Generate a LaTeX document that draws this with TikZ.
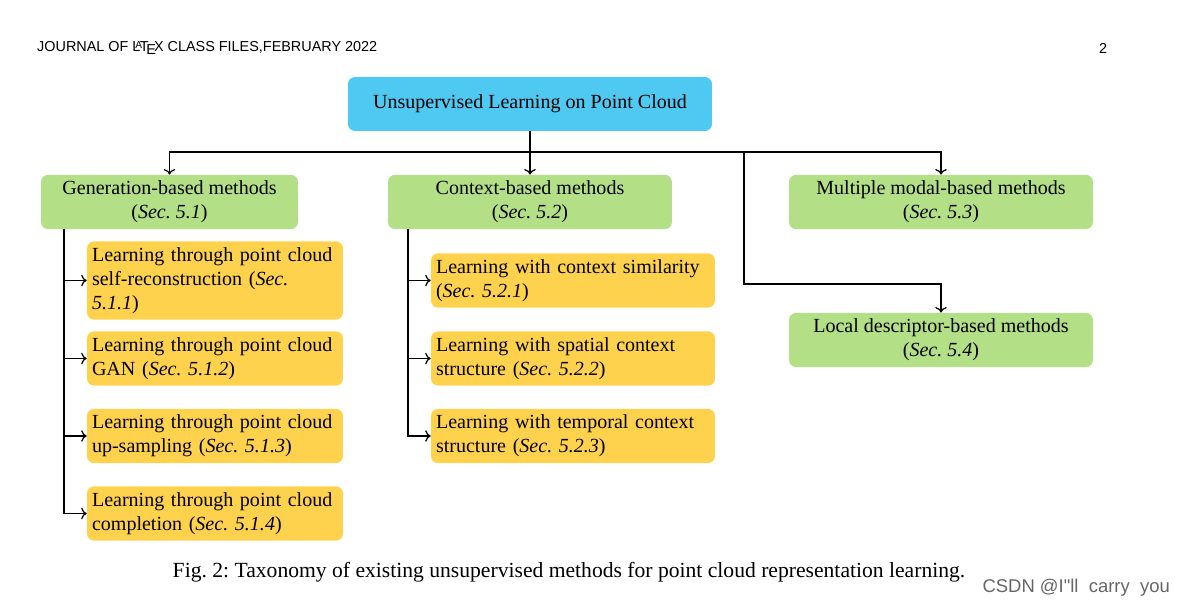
\documentclass[tikz,border=0pt]{standalone}
\usepackage{fontspec}
\setmainfont{Liberation Serif}
\newfontfamily\headfont{Liberation Sans}
\usetikzlibrary{arrows.meta, positioning}
\definecolor{rootblue}{HTML}{4FC9F2}
\definecolor{catgreen}{HTML}{B3DF86}
\definecolor{subyellow}{HTML}{FFD24D}
\tikzset{
  box/.style={rounded corners=4pt, minimum height=1.08cm, inner sep=0.12cm,
    font=\fontsize{11.4}{13.7}\selectfont},
  root/.style={box, fill=rootblue, minimum width=7.28cm},
  cat/.style={box, fill=catgreen, align=center},
  sub/.style={box, fill=subyellow, align=left, inner xsep=0.1cm},
  link/.style={line width=0.7pt}
}
\frenchspacing
\begin{document}
\frenchspacing
\begin{tikzpicture}[x=0.02cm, y=-0.02cm]
            \useasboundingbox (0,0) rectangle (1187,607);
            % page header and caption
            \node[anchor=west, font=\headfont\fontsize{8.2}{10}\selectfont] (head) at (31,48) {JOURNAL OF \LaTeX\ CLASS FILES,FEBRUARY 2022};
            \node[font=\headfont\fontsize{8.2}{10}\selectfont] (page) at (1103,48) {2};
            \node[font=\fontsize{12.3}{14}\selectfont] (cap) at (569,572) {Fig. 2: Taxonomy of existing unsupervised methods for point cloud representation learning.};
            \node[anchor=east, text=black!60, font=\headfont\fontsize{10.5}{12}\selectfont] (mark) at (1176,588) {CSDN @I"ll\ \ carry\ \ you};

            % boxes
            \node[root] (root) at (530,104) {Unsupervised Learning on Point Cloud};
            \node[cat, minimum width=5.14cm] (gen) at (169.5,202) {Generation-based methods\\(\textit{Sec. 5.1})};
            \node[cat, minimum width=5.68cm] (ctx) at (530,202) {Context-based methods\\(\textit{Sec. 5.2})};
            \node[cat, minimum width=6.08cm] (mm) at (941,202) {Multiple modal-based methods\\(\textit{Sec. 5.3})};
            \node[cat, minimum width=6.08cm] (loc) at (941,340) {Local descriptor-based methods\\(\textit{Sec. 5.4})};

            \node[sub, text width=4.92cm] (g1) at (215,280.5) {Learning through point cloud\\self-reconstruction (\textit{Sec. 5.1.1})};
            \node[sub, text width=4.92cm] (g2) at (215,358.5) {Learning through point cloud\\GAN (\textit{Sec. 5.1.2})};
            \node[sub, text width=4.92cm] (g3) at (215,436) {Learning through point cloud\\up-sampling (\textit{Sec. 5.1.3})};
            \node[sub, text width=4.92cm] (g4) at (215,513.5) {Learning through point cloud\\completion (\textit{Sec. 5.1.4})};
            \node[sub, text width=5.48cm] (c1) at (573,280.5) {Learning with context similarity\\(\textit{Sec. 5.2.1})};
            \node[sub, text width=5.48cm] (c2) at (573,358.5) {Learning with spatial context\\structure (\textit{Sec. 5.2.2})};
            \node[sub, text width=5.48cm] (c3) at (573,436) {Learning with temporal context\\structure (\textit{Sec. 5.2.3})};

            % connectors
            \coordinate (j) at (530,152);
            \coordinate (k) at (744,152);
            \coordinate (k2) at (744,284);
            \coordinate (gb) at (64,229);
            \coordinate (cb) at (408,229);
            \draw[link] (root) -- (j);
            \draw[link,->] (j) -| (gen.north);
            \draw[link,->] (j) -- (ctx.north);
            \draw[link,->] (j) -| (mm.north);
            \draw[link,->] (k) -- (k2) -| (loc.north);
            \foreach \s in {g1,g2,g3,g4} \draw[link,->] (gb) |- (\s.west);
            \foreach \s in {c1,c2,c3} \draw[link,->] (cb) |- (\s.west);
\end{tikzpicture}
\end{document}
